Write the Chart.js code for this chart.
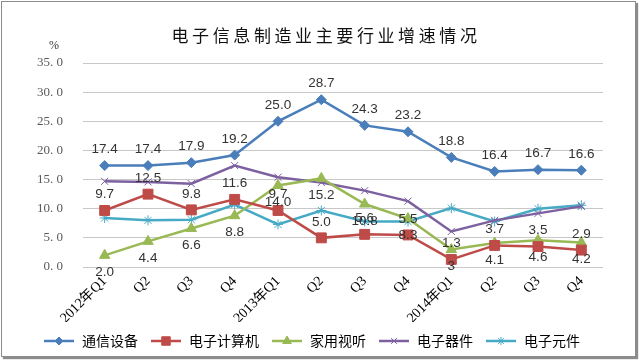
<!DOCTYPE html>
<html lang="zh-CN">
<head>
<meta charset="UTF-8">
<title>电子信息制造业主要行业增速情况</title>
<script src="https://cdn.jsdelivr.net/npm/chart.js"></script>
<style>
  body { margin: 0; background: #fff; }
  .frame { position: relative; width: 639px; height: 360px; overflow: hidden; }
  .frame canvas { position: absolute; left: 0; top: 0; }
  .border { position: absolute; left: 1px; top: 1px; width: 633px; height: 354px; border: 1px solid #8c8c8c; box-shadow: 2px 2px 1px rgba(0,0,0,0.45); pointer-events: none; }
  .title { position: absolute; left: 0; width: 652px; top: 22px; text-align: center; font: 17px "Noto Sans CJK SC", sans-serif; letter-spacing: 3.6px; color: #111; }
  .unit { position: absolute; left: 49px; top: 38px; font: 12px "Liberation Serif", serif; color: #333; }
</style>
</head>
<body>
<div class="frame">
  <canvas id="chart" width="639" height="360"></canvas>
  <div class="title">电子信息制造业主要行业增速情况</div>
  <div class="unit">%</div>
  <div class="border"></div>
</div>

<script>
// quarters on the x axis
const quarters = ['2012年Q1', 'Q2', 'Q3', 'Q4', '2013年Q1', 'Q2', 'Q3', 'Q4', '2014年Q1', 'Q2', 'Q3', 'Q4'];

// growth rates, %
const telecom    = [17.4, 17.4, 17.9, 19.2, 25.0, 28.7, 24.3, 23.2, 18.8, 16.4, 16.7, 16.6]; // 通信设备
const computers  = [9.7, 12.5, 9.8, 11.6, 9.7, 5.0, 5.6, 5.5, 1.3, 3.7, 3.5, 2.9];        // 电子计算机
const homeAV     = [2.0, 4.4, 6.6, 8.8, 14.0, 15.2, 10.8, 8.3, 3, 4.1, 4.6, 4.2];         // 家用视听
const devices    = [14.7, 14.6, 14.3, 17.4, 15.4, 14.5, 13.1, 11.3, 6.1, 8.0, 9.2, 10.4]; // 电子器件
const components = [8.4, 8.0, 8.1, 10.7, 7.3, 9.7, 7.8, 7.8, 10.1, 7.8, 10.0, 10.6];     // 电子元件

const yTicks = [0, 5, 10, 15, 20, 25, 30, 35];

// the sheet shows the 2014Q1 家用视听 figure as a bare "3"
const fmt = v => (v === 3 ? '3' : v.toFixed(1));

const ICON_W = 32;

// small line+marker swatch for the legend, like Excel draws it
function legendIcon(color, style, radius) {
  const c = document.createElement('canvas');
  c.width = ICON_W; c.height = 14;
  const g = c.getContext('2d');
  g.strokeStyle = color;
  g.lineWidth = 2.5;
  g.beginPath(); g.moveTo(1, 7); g.lineTo(ICON_W - 1, 7); g.stroke();
  g.fillStyle = color;
  g.lineWidth = 1;
  Chart.helpers.drawPoint(g, { pointStyle: style, radius: radius, rotation: 0, borderWidth: 1 }, ICON_W / 2, 7);
  return c;
}

function series(label, data, color, style, radius, labelPos) {
  return {
    label: label,
    data: data,
    borderColor: color,
    backgroundColor: color,
    borderWidth: 2.5,
    pointStyle: style,
    pointRadius: radius,
    pointHoverRadius: radius,
    pointBorderColor: color,
    pointBackgroundColor: color,
    pointBorderWidth: 1,
    tension: 0,
    valueLabels: labelPos,
    icon: legendIcon(color, style, radius - 1)
  };
}

// value labels above/below each point
const pointLabels = {
  id: 'pointLabels',
  afterDatasetsDraw(chart) {
    const ctx = chart.ctx;
    ctx.save();
    ctx.font = '13.5px "Liberation Sans", sans-serif';
    ctx.fillStyle = '#333';
    ctx.textAlign = 'center';
    ctx.textBaseline = 'middle';
    chart.data.datasets.forEach((ds, i) => {
      if (!ds.valueLabels) return;
      chart.getDatasetMeta(i).data.forEach((pt, j) => {
        const dy = ds.valueLabels === 'above' ? -16 : 17;
        ctx.fillText(fmt(ds.data[j]), pt.x, pt.y + dy);
      });
    });
    ctx.restore();
  }
};

new Chart(document.getElementById('chart'), {
  type: 'line',
  data: {
    labels: quarters,
    datasets: [
      series('通信设备', telecom, '#4a7ebb', 'rectRot', 5, 'above'),
      series('电子计算机', computers, '#be4b48', 'rect', 7, 'above'),
      series('家用视听', homeAV, '#98b954', 'triangle', 6, 'below'),
      series('电子器件', devices, '#7d60a0', 'crossRot', 5, null),
      series('电子元件', components, '#46aac5', 'star', 5, null)
    ]
  },
  options: {
    responsive: false,
    animation: false,
    layout: { padding: { left: 20, right: 36, top: 63, bottom: 2 } },
    plugins: {
      title: { display: false },
      tooltip: { enabled: false },
      legend: {
        position: 'bottom',
        labels: {
          usePointStyle: true,
          pointStyleWidth: ICON_W,
          boxHeight: 14,
          padding: 12,
          color: '#000',
          font: { family: '"Noto Sans CJK SC", sans-serif', size: 14 },
          generateLabels(chart) {
            return chart.data.datasets.map((ds, i) => ({
              text: ds.label,
              pointStyle: ds.icon,
              fillStyle: ds.borderColor,
              strokeStyle: ds.borderColor,
              lineWidth: 0,
              hidden: false,
              datasetIndex: i
            }));
          }
        }
      }
    },
    scales: {
      x: {
        offset: true,
        grid: { display: false, drawTicks: false },
        border: { display: false },
        ticks: {
          autoSkip: false,
          minRotation: 45,
          maxRotation: 45,
          padding: 6,
          color: '#000',
          font: { family: '"Liberation Serif", serif', size: 14 }
        },
        afterFit(scale) { scale.height = 55; }
      },
      y: {
        min: 0,
        max: 35,
        afterBuildTicks(scale) { scale.ticks = yTicks.map(v => ({ value: v })); },
        grid: { color: '#c8c8c8', drawTicks: false },
        border: { display: false },
        ticks: {
          padding: 20,
          color: '#595959',
          font: { family: '"Liberation Serif", serif', size: 13 },
          callback: v => v.toFixed(1).replace('.', '. ')
        },
        afterFit(scale) { scale.width = 63; }
      }
    }
  },
  plugins: [pointLabels]
});
</script>
</body>
</html>
